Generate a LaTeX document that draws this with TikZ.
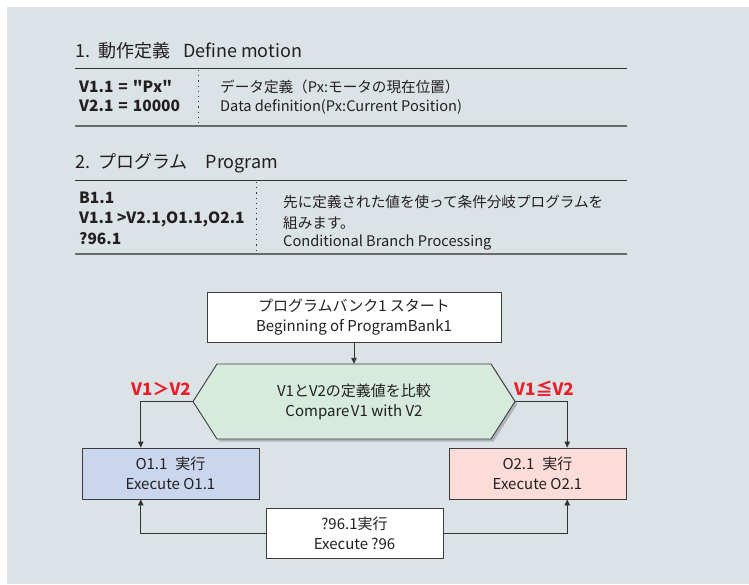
\documentclass[tikz,border=0pt]{standalone}
\usepackage{fontspec}
\setmainfont{Noto Sans CJK JP}[Ligatures=TeXOff]
\usetikzlibrary{arrows.meta,calc}
\definecolor{bgc}{RGB}{220,227,230}
\definecolor{lnc}{RGB}{51,51,51}
\definecolor{boxc}{RGB}{60,60,60}
\definecolor{ruleg}{RGB}{105,105,105}
\definecolor{hexfill}{RGB}{214,235,222}
\definecolor{bluefill}{RGB}{201,214,238}
\definecolor{pinkfill}{RGB}{251,220,216}
\definecolor{redlab}{RGB}{232,32,44}
\definecolor{txt}{RGB}{35,31,32}
\definecolor{shadowc}{RGB}{176,181,184}
\begin{document}
\begin{tikzpicture}[x=1pt,y=-1pt,
  every node/.style={text=txt, inner sep=0pt},
  ttl/.style={font=\fontsize{18}{22}\selectfont, anchor=base west},
  code/.style={font=\fontsize{15.5}{20}\selectfont\bfseries, anchor=base west},
  body/.style={font=\fontsize{14.6}{20}\selectfont, anchor=base west},
  rulea/.style={draw=lnc, line width=1pt},
  ruleb/.style={draw=ruleg, line width=1.3pt},
  dots/.style={draw=lnc, line width=0.9pt, dash pattern=on 1.2pt off 4pt},
  fbox/.style={draw=boxc, line width=0.9pt, align=center, font=\fontsize{15}{20}\selectfont},
  conn/.style={draw=lnc, line width=0.9pt, -{Triangle[length=6pt,width=5.5pt]}},
  redl/.style={text=redlab, font=\fontsize{17}{20}\selectfont\bfseries},
]
\useasboundingbox (0,0) rectangle (749,584);
\fill[bgc] (7,7) rectangle (749,584);

% section 1
\node[ttl] (t1) at (75,57) {1.\hspace{8pt}動作定義\hspace{13pt}Define motion};
\draw[rulea] (75,68) -- (627,68);
\draw[dots] (198,70) -- (198,125);
\node[code] (v11) at (79,92) {V1.1\hspace{5pt}=\hspace{5pt}"Px"};
\node[code] (v21) at (79,111) {V2.1\hspace{5pt}=\hspace{5pt}10000};
\node[body] (d1) at (220,92) {データ定義（Px:モータの現在位置）};
\node[body] (d2) at (220,111) {Data definition(Px:Current Position)};
\draw[ruleb] (75,126) -- (627,126);

% section 2
\node[ttl] (t2) at (75,168) {2.\hspace{8pt}プログラム\hspace{18pt}Program};
\draw[rulea] (75,180) -- (627,180);
\draw[dots] (256,182) -- (256,252);
\node[code] (b1) at (79,203) {B1.1};
\node[code] (b2) at (79,223) {V1.1 >V2.1,O1.1,O2.1};
\node[code] (b3) at (79,244) {?96.1};
\node[body] (p1) at (283,207) {先に定義された値を使って条件分岐プログラムを};
\node[body] (p2) at (283,228) {組みます。};
\node[body] (p3) at (283,246) {Conditional Branch Processing};
\draw[ruleb] (75,254) -- (627,254);

% flowchart
\node[fbox, fill=white, minimum width=294pt, minimum height=50pt] (start) at (354,317)
  {プログラムバンク1 スタート\\Beginning of ProgramBank1};
\fill[shadowc, shift={(2.5,2.5)}] (193,401.5) -- (217,364) -- (491,364) -- (515,401.5) -- (491,439) -- (217,439) -- cycle;
\filldraw[fill=hexfill, draw=boxc, line width=0.9pt] (193,401.5) -- (217,364) -- (491,364) -- (515,401.5) -- (491,439) -- (217,439) -- cycle;
\node[align=center, font=\fontsize{15}{20}\selectfont, minimum width=322pt, minimum height=75pt] (cmp) at (354,401.5)
  {V1とV2の定義値を比較\\Compare\hspace{1.5pt}V1 with V2};
\node[redl] (gt) at (161,389) {V1＞V2};
\node[redl] (le) at (544,389) {V1≦V2};

\node[fbox, fill=bluefill, minimum width=177pt, minimum height=51pt] (o1) at (170.5,473.5)
  {O1.1\hspace{8pt}実行\\Execute O1.1};
\node[fbox, fill=pinkfill, minimum width=177pt, minimum height=51pt] (o2) at (537.5,473.5)
  {O2.1\hspace{8pt}実行\\Execute O2.1};
\node[fbox, fill=white, minimum width=177pt, minimum height=50pt] (q96) at (354.5,533)
  {?96.1実行\\Execute ?96};

\coordinate (o1t) at ($(o1.north west)!0.333!(o1.north east)$);
\coordinate (o1b) at ($(o1.south west)!0.333!(o1.south east)$);
\coordinate (o2t) at ($(o2.north west)!0.667!(o2.north east)$);
\coordinate (o2b) at ($(o2.south west)!0.667!(o2.south east)$);

\draw[conn] (start) -- (cmp);
\draw[conn] (cmp.west) -| (o1t);
\draw[conn] (cmp.east) -| (o2t);
\draw[conn] (q96.west) -| (o1b);
\draw[conn] (q96.east) -| (o2b);
\end{tikzpicture}
\end{document}
